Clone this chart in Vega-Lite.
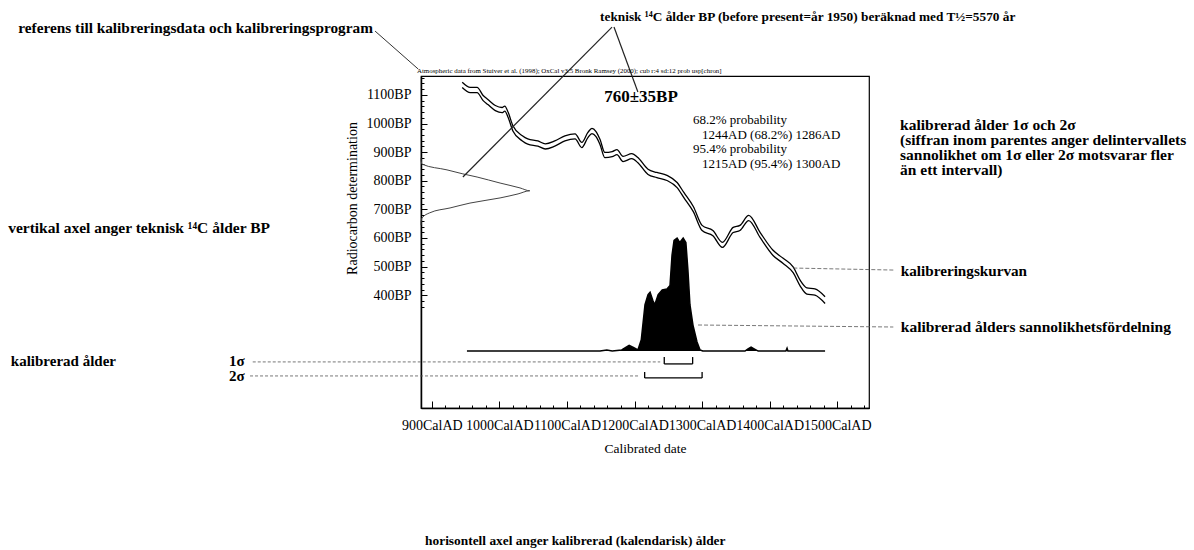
{
  "$schema": "https://vega.github.io/schema/vega-lite/v6.json",
  "width": 448,
  "height": 332,
  "autosize": "none",
  "padding": {"left": 421, "top": 76, "right": 325, "bottom": 142},
  "background": "white",
  "config": {
    "font": "Liberation Serif",
    "view": {"stroke": "black", "strokeWidth": 1.2},
    "axis": {"domainColor": "black", "tickColor": "black", "labelColor": "black", "titleColor": "black", "grid": false, "labelFont": "Liberation Serif", "titleFont": "Liberation Serif", "labelOverlap": false},
    "text": {"color": "black", "font": "Liberation Serif"}
  },
  "datasets": {
    "curve": [
      {"year": 945, "hi": 1144, "lo": 1126}, {"year": 957, "hi": 1126, "lo": 1108}, {"year": 967, "hi": 1126, "lo": 1108},
      {"year": 976, "hi": 1098, "lo": 1080}, {"year": 983, "hi": 1084, "lo": 1066}, {"year": 994, "hi": 1063, "lo": 1045},
      {"year": 1004, "hi": 1056, "lo": 1038}, {"year": 1008, "hi": 1061, "lo": 1043}, {"year": 1013, "hi": 1039, "lo": 1021},
      {"year": 1020, "hi": 992, "lo": 974}, {"year": 1034, "hi": 957, "lo": 939}, {"year": 1042, "hi": 946, "lo": 928},
      {"year": 1057, "hi": 939, "lo": 921}, {"year": 1068, "hi": 929, "lo": 911}, {"year": 1082, "hi": 939, "lo": 921},
      {"year": 1097, "hi": 957, "lo": 939}, {"year": 1112, "hi": 964, "lo": 946}, {"year": 1122, "hi": 934, "lo": 916},
      {"year": 1131, "hi": 969, "lo": 951}, {"year": 1137, "hi": 983, "lo": 965}, {"year": 1143, "hi": 972, "lo": 954},
      {"year": 1149, "hi": 944, "lo": 926}, {"year": 1156, "hi": 899, "lo": 881}, {"year": 1167, "hi": 902, "lo": 884},
      {"year": 1174, "hi": 909, "lo": 891}, {"year": 1183, "hi": 885, "lo": 867}, {"year": 1196, "hi": 895, "lo": 877},
      {"year": 1205, "hi": 881, "lo": 863}, {"year": 1220, "hi": 840, "lo": 822}, {"year": 1233, "hi": 829, "lo": 811},
      {"year": 1248, "hi": 819, "lo": 801}, {"year": 1263, "hi": 794, "lo": 776}, {"year": 1273, "hi": 759, "lo": 741},
      {"year": 1287, "hi": 710, "lo": 692}, {"year": 1300, "hi": 644, "lo": 626}, {"year": 1316, "hi": 626, "lo": 608},
      {"year": 1330, "hi": 585, "lo": 567}, {"year": 1346, "hi": 637, "lo": 619}, {"year": 1356, "hi": 644, "lo": 626},
      {"year": 1369, "hi": 679, "lo": 661}, {"year": 1386, "hi": 619, "lo": 601}, {"year": 1405, "hi": 557, "lo": 539},
      {"year": 1420, "hi": 529, "lo": 511}, {"year": 1435, "hi": 498, "lo": 478}, {"year": 1445, "hi": 453, "lo": 433},
      {"year": 1455, "hi": 426, "lo": 404}, {"year": 1467, "hi": 422, "lo": 400}, {"year": 1482, "hi": 395, "lo": 371}
    ],
    "measured": [
      {"bp": 880, "dens": 884}, {"bp": 872, "dens": 884}, {"bp": 858, "dens": 885.5}, {"bp": 838, "dens": 922.5},
      {"bp": 824, "dens": 946}, {"bp": 813, "dens": 967}, {"bp": 792, "dens": 1001}, {"bp": 775, "dens": 1030.5},
      {"bp": 765, "dens": 1045}, {"bp": 754, "dens": 1027.6}, {"bp": 740, "dens": 1001}, {"bp": 722, "dens": 956.5},
      {"bp": 705, "dens": 927}, {"bp": 688, "dens": 897}, {"bp": 670, "dens": 885.5}, {"bp": 656, "dens": 884}, {"bp": 645, "dens": 884}
    ],
    "prob": [
      {"year": 952, "p": 0}, {"year": 1149, "p": 0}, {"year": 1159, "p": 0.01}, {"year": 1167, "p": 0},
      {"year": 1181, "p": 0.01}, {"year": 1192, "p": 0.05}, {"year": 1199, "p": 0.03}, {"year": 1205, "p": 0.01},
      {"year": 1210, "p": 0.1}, {"year": 1215.5, "p": 0.41}, {"year": 1220, "p": 0.5}, {"year": 1223, "p": 0.52},
      {"year": 1227, "p": 0.45}, {"year": 1230, "p": 0.41}, {"year": 1235, "p": 0.5}, {"year": 1241, "p": 0.54},
      {"year": 1248, "p": 0.55}, {"year": 1252.5, "p": 0.58}, {"year": 1255.5, "p": 0.85}, {"year": 1258.5, "p": 0.98},
      {"year": 1263, "p": 1.0}, {"year": 1267, "p": 0.96}, {"year": 1272, "p": 1.0}, {"year": 1276, "p": 0.96},
      {"year": 1279, "p": 0.72}, {"year": 1282, "p": 0.41}, {"year": 1286.5, "p": 0.23}, {"year": 1292.5, "p": 0.08},
      {"year": 1297, "p": 0.01}, {"year": 1301, "p": 0}, {"year": 1363.5, "p": 0}, {"year": 1368, "p": 0.02},
      {"year": 1372.5, "p": 0.035}, {"year": 1377, "p": 0.02}, {"year": 1383, "p": 0}, {"year": 1424, "p": 0},
      {"year": 1425.7, "p": 0.025}, {"year": 1427, "p": 0}, {"year": 1482, "p": 0}
    ],
    "intervals": [
      {"sigma": "1σ", "from": 1244, "to": 1286},
      {"sigma": "2σ", "from": 1215, "to": 1300}
    ],
    "one": [{}]
  },
  "layer": [
    {
      "resolve": {"axis": {"x": "independent", "y": "independent"}},
      "layer": [
        {
          "data": {"name": "curve"},
          "mark": {"type": "line", "color": "black", "strokeWidth": 1.3, "interpolate": "monotone"},
          "encoding": {
            "x": {"field": "year", "type": "quantitative", "scale": {"domain": [884, 1547], "nice": false, "zero": false},
              "axis": {"orient": "bottom", "values": [900, 1000, 1100, 1200, 1300, 1400, 1500],
                "labelExpr": "datum.value + 'CalAD'", "tickSize": -7, "tickWidth": 1, "domainWidth": 1.5,
                "labelPadding": 17, "labelFlush": false, "labelFontSize": 14,
                "title": "Calibrated date", "titleFontSize": 13.5, "titleFontWeight": "normal", "titlePadding": 9}},
            "y": {"field": "hi", "type": "quantitative", "scale": {"domain": [6, 1166], "nice": false, "zero": false},
              "axis": {"orient": "left", "values": [400, 500, 600, 700, 800, 900, 1000, 1100],
                "labelExpr": "datum.value + 'BP'", "tickSize": -6, "tickWidth": 1, "domainWidth": 1.5,
                "labelPadding": 16, "labelFontSize": 14,
                "title": "Radiocarbon determination", "titleFontSize": 14, "titleFontWeight": "normal", "titlePadding": 6, "titleY": 122}}
          }
        },
        {
          "data": {"name": "curve"},
          "mark": {"type": "line", "color": "black", "strokeWidth": 1.3, "interpolate": "monotone"},
          "encoding": {
            "x": {"field": "year", "type": "quantitative",
              "axis": {"orient": "bottom", "values": [900,920,940,960,980,1000,1020,1040,1060,1080,1100,1120,1140,1160,1180,1200,1220,1240,1260,1280,1300,1320,1340,1360,1380,1400,1420,1440,1460,1480,1500,1520,1540],
                "tickSize": -3, "tickWidth": 1, "labels": false, "domain": false, "title": null}},
            "y": {"field": "lo", "type": "quantitative",
              "axis": {"orient": "left", "values": [360,380,400,420,440,460,480,500,520,540,560,580,600,620,640,660,680,700,720,740,760,780,800,820,840,860,880,900,920,940,960,980,1000,1020,1040,1060,1080,1100,1120,1140,1160],
                "tickSize": -3, "tickWidth": 1, "labels": false, "domain": false, "title": null}}
          }
        },
        {
          "data": {"name": "measured"},
          "mark": {"type": "line", "color": "#444", "strokeWidth": 1, "interpolate": "monotone"},
          "encoding": {
            "x": {"field": "dens", "type": "quantitative", "axis": null},
            "y": {"field": "bp", "type": "quantitative", "axis": null},
            "order": {"field": "bp", "type": "quantitative"}
          }
        },
        {
          "data": {"name": "intervals"},
          "transform": [{"filter": "datum.sigma === '1σ'"}],
          "mark": {"type": "rule", "color": "black", "strokeWidth": 1.3},
          "encoding": {"x": {"field": "from", "type": "quantitative", "axis": null}, "x2": {"field": "to"}, "y": {"datum": 160, "axis": null}}
        },
        {
          "data": {"name": "intervals"},
          "transform": [{"filter": "datum.sigma === '1σ'"}, {"fold": ["from", "to"], "as": ["end", "yr"]}],
          "mark": {"type": "rule", "color": "black", "strokeWidth": 1.3},
          "encoding": {"x": {"field": "yr", "type": "quantitative", "axis": null}, "y": {"datum": 160, "axis": null}, "y2": {"datum": 184}}
        },
        {
          "data": {"name": "intervals"},
          "transform": [{"filter": "datum.sigma === '2σ'"}],
          "mark": {"type": "rule", "color": "black", "strokeWidth": 1.3},
          "encoding": {"x": {"field": "from", "type": "quantitative", "axis": null}, "x2": {"field": "to"}, "y": {"datum": 111, "axis": null}}
        },
        {
          "data": {"name": "intervals"},
          "transform": [{"filter": "datum.sigma === '2σ'"}, {"fold": ["from", "to"], "as": ["end", "yr"]}],
          "mark": {"type": "rule", "color": "black", "strokeWidth": 1.3},
          "encoding": {"x": {"field": "yr", "type": "quantitative", "axis": null}, "y": {"datum": 111, "axis": null}, "y2": {"datum": 132}}
        },
        {
          "data": {"name": "one"},
          "mark": {"type": "rule", "color": "#555", "strokeWidth": 0.8, "strokeDash": [3, 2]},
          "encoding": {"x": {"datum": 635, "axis": null}, "x2": {"datum": 1238}, "y": {"datum": 167, "axis": null}}
        },
        {
          "data": {"name": "one"},
          "mark": {"type": "rule", "color": "#555", "strokeWidth": 0.8, "strokeDash": [3, 2]},
          "encoding": {"x": {"datum": 631, "axis": null}, "x2": {"datum": 1208}, "y": {"datum": 118, "axis": null}}
        },
        {
          "data": {"name": "one"},
          "mark": {"type": "rule", "color": "#555", "strokeWidth": 0.8, "strokeDash": [4, 2]},
          "encoding": {"x": {"datum": 1435, "axis": null}, "x2": {"datum": 1583}, "y": {"datum": 495, "axis": null}, "y2": {"datum": 488}}
        },
        {
          "data": {"name": "one"},
          "mark": {"type": "rule", "color": "#555", "strokeWidth": 0.8, "strokeDash": [4, 2]},
          "encoding": {"x": {"datum": 1294, "axis": null}, "x2": {"datum": 1583}, "y": {"datum": 296, "axis": null}, "y2": {"datum": 289}}
        },
        {
          "data": {"name": "one"},
          "mark": {"type": "rule", "color": "#333", "strokeWidth": 1},
          "encoding": {"x": {"datum": 816, "axis": null}, "x2": {"datum": 880}, "y": {"datum": 1323, "axis": null}, "y2": {"datum": 1190}}
        },
        {
          "data": {"name": "one"},
          "mark": {"type": "rule", "color": "#222", "strokeWidth": 1.2},
          "encoding": {"x": {"datum": 1166.7, "axis": null}, "x2": {"datum": 946}, "y": {"datum": 1337, "axis": null}, "y2": {"datum": 813}}
        },
        {
          "data": {"name": "one"},
          "mark": {"type": "rule", "color": "#222", "strokeWidth": 1.2},
          "encoding": {"x": {"datum": 1169.6, "axis": null}, "x2": {"datum": 1205}, "y": {"datum": 1337, "axis": null}, "y2": {"datum": 1110}}
        },
        {
          "data": {"name": "one"},
          "mark": {"type": "text", "text": "Atmospheric data from Stuiver et al. (1998); OxCal v3.5 Bronk Ramsey (2000); cub r:4 sd:12 prob usp[chron]", "align": "left", "baseline": "alphabetic", "fontSize": 6.9},
          "encoding": {"x": {"datum": 878, "axis": null}, "y": {"datum": 1176, "axis": null}}
        },
        {
          "data": {"name": "one"},
          "mark": {"type": "text", "text": "760±35BP", "align": "center", "baseline": "alphabetic", "fontSize": 17, "fontWeight": "bold"},
          "encoding": {"x": {"datum": 1209.6, "axis": null}, "y": {"datum": 1075, "axis": null}}
        },
        {
          "data": {"name": "one"},
          "mark": {"type": "text", "text": "68.2% probability", "align": "left", "baseline": "alphabetic", "fontSize": 13},
          "encoding": {"x": {"datum": 1286.6, "axis": null}, "y": {"datum": 998, "axis": null}}
        },
        {
          "data": {"name": "one"},
          "mark": {"type": "text", "text": "1244AD (68.2%) 1286AD", "align": "left", "baseline": "alphabetic", "fontSize": 13},
          "encoding": {"x": {"datum": 1300, "axis": null}, "y": {"datum": 947.6, "axis": null}}
        },
        {
          "data": {"name": "one"},
          "mark": {"type": "text", "text": "95.4% probability", "align": "left", "baseline": "alphabetic", "fontSize": 13},
          "encoding": {"x": {"datum": 1286.6, "axis": null}, "y": {"datum": 897, "axis": null}}
        },
        {
          "data": {"name": "one"},
          "mark": {"type": "text", "text": "1215AD (95.4%) 1300AD", "align": "left", "baseline": "alphabetic", "fontSize": 13},
          "encoding": {"x": {"datum": 1300, "axis": null}, "y": {"datum": 846.3, "axis": null}}
        },
        {
          "data": {"name": "one"},
          "mark": {"type": "text", "text": "referens till kalibreringsdata och kalibreringsprogram", "align": "left", "baseline": "alphabetic", "fontSize": 15.3, "fontWeight": "bold"},
          "encoding": {"x": {"datum": 288, "axis": null}, "y": {"datum": 1316, "axis": null}}
        },
        {
          "data": {"name": "one"},
          "mark": {"type": "text", "text": "teknisk ¹⁴C ålder BP (before present=år 1950) beräknad med T½=5570 år", "align": "left", "baseline": "alphabetic", "fontSize": 13.3, "fontWeight": "bold"},
          "encoding": {"x": {"datum": 1149, "axis": null}, "y": {"datum": 1358, "axis": null}}
        },
        {
          "data": {"name": "one"},
          "mark": {"type": "text", "text": ["kalibrerad ålder 1σ och  2σ", "(siffran inom parentes anger delintervallets", "sannolikhet om 1σ eller 2σ motsvarar fler", "än ett intervall)"], "align": "left", "baseline": "alphabetic", "fontSize": 15.5, "fontWeight": "bold", "lineHeight": 15},
          "encoding": {"x": {"datum": 1593, "axis": null}, "y": {"datum": 977, "axis": null}}
        },
        {
          "data": {"name": "one"},
          "mark": {"type": "text", "text": "kalibreringskurvan", "align": "left", "baseline": "alphabetic", "fontSize": 15.2, "fontWeight": "bold"},
          "encoding": {"x": {"datum": 1594, "axis": null}, "y": {"datum": 467, "axis": null}}
        },
        {
          "data": {"name": "one"},
          "mark": {"type": "text", "text": "kalibrerad ålders sannolikhetsfördelning", "align": "left", "baseline": "alphabetic", "fontSize": 15.5, "fontWeight": "bold"},
          "encoding": {"x": {"datum": 1594, "axis": null}, "y": {"datum": 271, "axis": null}}
        },
        {
          "data": {"name": "one"},
          "mark": {"type": "text", "text": "vertikal axel anger teknisk ¹⁴C ålder BP", "align": "left", "baseline": "alphabetic", "fontSize": 15.5, "fontWeight": "bold"},
          "encoding": {"x": {"datum": 273, "axis": null}, "y": {"datum": 618, "axis": null}}
        },
        {
          "data": {"name": "one"},
          "mark": {"type": "text", "text": "kalibrerad ålder", "align": "left", "baseline": "alphabetic", "fontSize": 15, "fontWeight": "bold"},
          "encoding": {"x": {"datum": 277, "axis": null}, "y": {"datum": 152, "axis": null}}
        },
        {
          "data": {"name": "one"},
          "mark": {"type": "text", "text": "1σ", "align": "left", "baseline": "alphabetic", "fontSize": 15, "fontWeight": "bold"},
          "encoding": {"x": {"datum": 600, "axis": null}, "y": {"datum": 152, "axis": null}}
        },
        {
          "data": {"name": "one"},
          "mark": {"type": "text", "text": "2σ", "align": "left", "baseline": "alphabetic", "fontSize": 15, "fontWeight": "bold"},
          "encoding": {"x": {"datum": 600, "axis": null}, "y": {"datum": 101, "axis": null}}
        },
        {
          "data": {"name": "one"},
          "mark": {"type": "text", "text": "horisontell axel anger kalibrerad (kalendarisk) ålder", "align": "left", "baseline": "alphabetic", "fontSize": 13.4, "fontWeight": "bold"},
          "encoding": {"x": {"datum": 890, "axis": null}, "y": {"datum": -472, "axis": null}}
        }
      ]
    },
    {
      "data": {"name": "prob"},
      "mark": {"type": "area", "color": "black", "opacity": 1, "fillOpacity": 1, "line": {"color": "black", "strokeWidth": 1.5}},
      "encoding": {
        "x": {"field": "year", "type": "quantitative", "scale": {"domain": [884, 1547], "nice": false, "zero": false}, "axis": null},
        "y": {"field": "p", "type": "quantitative", "scale": {"domain": [-0.504, 2.434], "nice": false, "zero": false}, "axis": null}
      }
    }
  ],
  "resolve": {"scale": {"y": "independent"}}
}
